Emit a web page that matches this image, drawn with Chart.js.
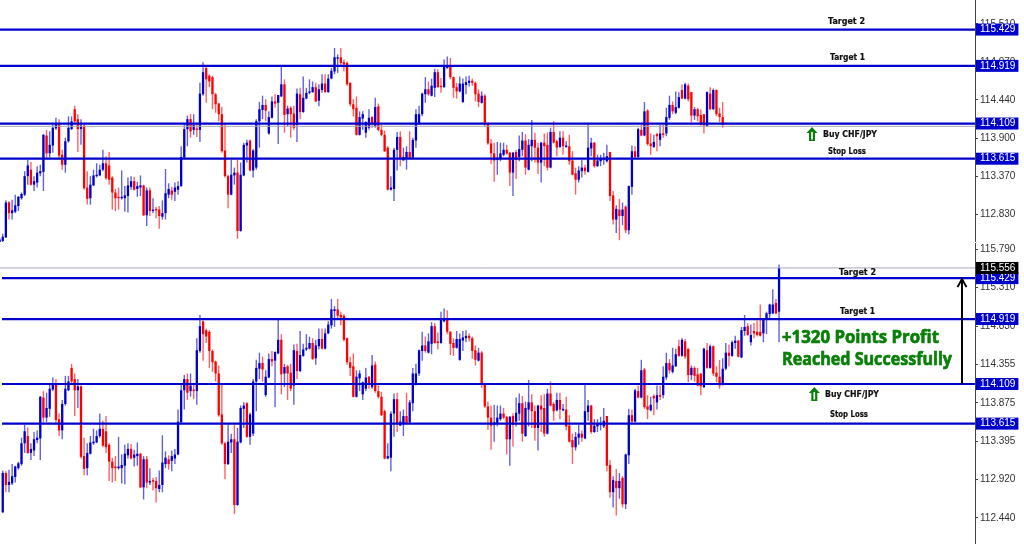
<!DOCTYPE html>
<html><head><meta charset="utf-8">
<style>
html,body{margin:0;padding:0;background:#fff;width:1024px;height:544px;overflow:hidden}
canvas{position:absolute;left:0;display:block}
#top{top:0}
#bottom{top:243px}
</style>
<script src="https://cdn.jsdelivr.net/npm/chart.js@4/dist/chart.umd.min.js"></script>
</head><body>
<canvas id="top" width="1024" height="242"></canvas>
<canvas id="bottom" width="1024" height="301"></canvas>
<script>
const opens=[112.43,112.46,112.51,113.00,112.85,112.87,112.95,113.06,113.11,113.37,
113.46,113.25,113.28,113.41,113.43,113.94,113.69,113.80,114.04,114.10,
113.67,113.53,113.86,114.03,114.31,114.17,114.03,114.08,113.21,113.06,
113.24,113.37,113.38,113.46,113.55,113.52,113.35,113.14,113.08,113.06,
113.06,113.09,113.22,113.30,113.19,113.21,113.24,112.82,113.17,112.88,
112.91,112.90,112.80,112.85,113.11,113.17,113.15,113.18,113.23,113.63,
114.03,114.17,114.02,114.04,114.02,114.52,114.89,114.78,114.76,114.52,
114.39,114.24,113.73,113.37,113.11,113.38,113.42,112.60,113.38,113.80,
113.87,113.45,113.49,114.14,114.30,114.37,113.97,114.19,114.42,114.40,
114.49,114.66,114.24,114.33,114.25,114.09,114.52,114.27,114.46,114.54,
114.55,114.62,114.43,114.58,114.67,114.55,114.74,114.84,115.02,115.04,
114.97,114.96,114.68,114.38,114.33,113.95,114.18,113.98,114.05,114.20,
114.07,114.35,114.02,113.95,113.77,113.18,113.19,113.74,113.92,113.59,
113.62,113.71,113.63,113.87,114.11,114.24,114.52,114.59,114.50,114.61,
114.83,114.64,114.62,114.89,114.93,114.76,114.62,114.56,114.41,114.65,
114.68,114.71,114.68,114.53,114.40,114.50,114.11,113.83,113.69,113.60,
113.62,113.67,113.74,113.70,113.42,113.71,113.64,113.74,113.87,113.46,
113.79,113.88,113.77,113.56,113.84,113.81,113.49,113.99,113.86,113.78,
113.91,113.78,113.79,113.59,113.41,113.32,113.44,113.49,113.43,113.76,
113.84,113.51,113.58,113.60,113.58,113.71,113.10,112.76,112.90,112.81,
112.94,112.61,113.22,113.72,113.64,114.02,113.94,114.29,113.83,113.78,
113.96,113.88,113.97,113.97,114.19,114.37,114.26,114.33,114.58,114.46,
114.64,114.55,114.22,114.31,114.23,114.24,114.07,114.53,114.31,114.58,
114.25,114.20,114.10,114.30,114.50,114.46,114.62,114.65,114.44,114.77,
114.83,114.63,114.77,114.76,114.76,114.74,114.93,114.98,114.99,115.12,115.01];
const highs=[112.50,112.56,113.03,113.02,113.04,113.11,113.09,113.14,113.44,113.60,
113.57,113.37,113.51,113.53,113.96,114.02,114.00,114.12,114.19,114.17,
113.74,113.91,114.21,114.21,114.36,114.24,114.17,114.09,113.44,113.37,
113.46,113.55,113.53,113.74,113.65,113.71,113.37,113.19,113.21,113.45,
113.23,113.35,113.37,113.36,113.29,113.38,113.25,113.21,113.21,113.06,
112.94,112.95,113.03,113.47,113.27,113.22,113.28,113.30,113.79,114.11,
114.22,114.24,114.24,114.12,114.68,114.97,114.90,114.80,114.78,114.54,
114.40,114.34,114.11,113.39,113.60,113.49,113.60,113.56,113.84,113.88,
113.88,113.75,114.17,114.41,114.50,114.45,114.28,114.49,114.52,114.51,
114.91,114.73,114.36,114.35,114.36,114.60,114.61,114.77,114.61,114.73,
114.70,114.68,114.66,114.80,114.80,114.80,114.89,115.17,115.08,115.17,
115.01,114.98,114.69,114.45,114.49,114.28,114.28,114.14,114.31,114.21,
114.47,114.39,114.09,114.01,113.79,113.37,113.77,113.99,114.00,113.77,
113.79,114.00,113.91,114.31,114.36,114.54,114.76,114.70,114.74,114.88,
114.87,114.75,115.01,115.05,115.03,114.77,114.68,114.77,114.74,114.77,
114.78,114.74,114.70,114.59,114.56,114.52,114.12,113.89,113.84,113.85,
113.84,113.84,113.81,113.71,113.71,113.74,113.94,113.99,113.96,113.89,
114.16,113.98,113.84,113.85,113.97,113.98,114.05,114.14,113.88,114.00,
114.00,113.86,113.95,113.72,113.49,113.51,113.60,113.53,114.10,113.91,
113.85,113.67,113.67,113.70,113.81,113.71,113.16,112.96,113.05,113.00,
112.96,113.24,113.80,113.79,114.05,114.09,114.41,114.31,113.97,113.95,
113.98,114.09,114.09,114.33,114.50,114.42,114.56,114.55,114.66,114.68,
114.67,114.55,114.34,114.33,114.31,114.24,114.56,114.62,114.60,114.59,
114.33,114.41,114.43,114.62,114.60,114.65,114.71,114.66,114.82,114.97,
114.87,114.85,114.87,114.90,115.10,114.93,115.01,115.11,115.29,115.17,115.60];
const lows=[112.41,112.43,112.50,112.76,112.76,112.85,112.88,113.04,113.09,113.25,
113.24,113.16,113.21,113.37,113.16,113.63,113.63,113.70,114.02,113.60,
113.46,113.42,113.84,114.02,114.12,113.71,113.81,113.18,112.97,112.97,
113.23,113.35,113.37,113.44,113.32,113.25,112.90,112.88,112.90,113.04,
112.87,112.86,113.18,113.17,113.08,113.09,112.81,112.67,112.81,112.85,
112.78,112.63,112.76,112.76,113.06,113.04,113.02,113.11,113.22,113.63,
113.79,113.91,113.95,113.92,113.85,114.50,114.40,114.62,114.31,114.26,
114.14,113.70,113.35,112.92,113.10,113.25,112.49,112.59,113.37,113.56,
113.44,113.35,113.46,113.77,114.17,114.14,113.95,114.18,114.33,113.82,
114.48,113.98,114.07,113.91,114.02,113.85,114.17,114.26,114.45,114.52,
114.54,114.41,114.35,114.54,114.54,114.54,114.73,114.80,114.82,114.91,
114.84,114.64,114.35,114.21,113.94,113.94,114.02,113.91,114.02,114.05,
114.05,114.00,113.93,113.71,113.17,113.17,113.02,113.45,113.51,113.59,
113.46,113.61,113.62,113.77,114.09,114.21,114.40,114.50,114.49,114.48,
114.61,114.54,114.61,114.88,114.73,114.47,114.46,114.55,114.40,114.52,
114.63,114.64,114.42,114.34,114.39,114.06,113.81,113.54,113.29,113.39,
113.58,113.65,113.67,113.23,113.09,113.33,113.58,113.65,113.39,113.45,
113.58,113.56,113.40,113.28,113.51,113.45,113.48,113.83,113.65,113.77,
113.67,113.77,113.53,113.38,113.11,113.28,113.35,113.39,113.42,113.65,
113.49,113.50,113.51,113.53,113.56,113.02,112.69,112.57,112.47,112.68,
112.57,112.55,113.11,113.61,113.63,113.93,113.93,113.80,113.67,113.77,
113.72,113.79,113.91,113.93,114.16,114.24,114.24,114.32,114.45,114.45,
114.42,114.13,114.16,114.14,114.08,113.97,114.06,114.30,114.30,114.21,
114.13,114.05,114.09,114.28,114.33,114.45,114.55,114.44,114.43,114.71,
114.71,114.59,114.68,114.70,114.70,114.63,114.73,114.91,114.98,114.98,114.63];
const closes=[112.48,112.52,113.00,112.85,112.89,112.96,113.08,113.12,113.37,113.52,
113.25,113.30,113.42,113.44,113.95,113.69,113.81,114.05,114.10,113.66,
113.53,113.86,114.05,114.14,114.14,114.03,114.08,113.20,113.05,113.25,
113.38,113.39,113.46,113.55,113.34,113.32,113.14,113.06,113.06,113.08,
113.10,113.24,113.30,113.18,113.23,113.24,112.82,113.17,112.88,112.90,
112.89,112.81,112.85,113.13,113.19,113.11,113.21,113.23,113.64,114.03,
114.17,114.00,114.09,114.02,114.53,114.83,114.73,114.70,114.52,114.38,
114.24,113.72,113.37,113.11,113.39,113.42,112.60,113.39,113.81,113.84,
113.45,113.73,114.14,114.31,114.37,114.29,114.20,114.42,114.39,114.51,
114.66,114.23,114.32,114.24,114.05,114.53,114.27,114.47,114.54,114.56,
114.62,114.42,114.59,114.67,114.55,114.74,114.85,115.04,115.04,114.96,
114.94,114.66,114.38,114.31,113.95,114.20,114.24,114.13,114.19,114.11,
114.34,114.02,113.95,113.72,113.18,113.21,113.74,113.92,113.62,113.64,
113.71,113.62,113.88,114.24,114.24,114.53,114.59,114.52,114.64,114.83,
114.62,114.62,114.92,114.93,114.76,114.61,114.56,114.67,114.67,114.69,
114.71,114.68,114.52,114.41,114.50,114.12,113.83,113.69,113.59,113.63,
113.69,113.74,113.69,113.42,113.70,113.60,113.75,113.87,113.49,113.81,
113.88,113.77,113.56,113.84,113.79,113.49,113.99,113.84,113.77,113.91,
113.79,113.80,113.58,113.39,113.32,113.45,113.49,113.44,113.77,113.84,
113.51,113.59,113.61,113.62,113.65,113.09,112.76,112.91,112.81,112.90,
112.61,113.23,113.72,113.64,114.03,113.94,114.28,113.82,113.79,113.85,
113.93,113.97,113.95,114.20,114.37,114.28,114.34,114.48,114.46,114.66,
114.45,114.22,114.31,114.21,114.09,114.08,114.55,114.31,114.58,114.24,
114.20,114.09,114.30,114.50,114.46,114.63,114.65,114.45,114.78,114.82,
114.72,114.72,114.74,114.72,114.71,114.93,114.99,115.10,115.10,114.99,115.556];

const levels=[115.429,114.919,114.109,113.615];
const lastPrice=115.556;
const topBidLine=114.07;
const topTicks=[115.510,114.970,114.440,113.900,113.370,112.830];
const bottomTicks=[115.790,115.310,114.830,114.355,113.875,113.395,112.920,112.440];

const BLUE='#0000CD',RED='#FF0000',BLUE_W='rgba(0,0,205,0.62)',RED_W='rgba(255,0,0,0.62)';

function drawArrow(ctx,cx,top,bottom){
  ctx.save();
  ctx.fillStyle='#0A7F0A';
  ctx.beginPath();
  ctx.moveTo(cx,top);ctx.lineTo(cx+5.5,top+6);ctx.lineTo(cx+3,top+6);ctx.lineTo(cx+3,bottom);
  ctx.lineTo(cx-3,bottom);ctx.lineTo(cx-3,top+6);ctx.lineTo(cx-5.5,top+6);ctx.closePath();
  ctx.fill();
  ctx.fillStyle='#fff';
  ctx.fillRect(cx-0.8,top+5,1.6,bottom-top-6.5);
  ctx.restore();
}
const notes={
  plugin:{
    id:'notes',
    afterDatasetsDraw(chart,args,opts){
      const ctx=chart.ctx;
      ctx.save();
      ctx.textAlign='left';ctx.textBaseline='middle';
      (opts.texts||[]).forEach(t=>{
        ctx.font=t.font;ctx.fillStyle=t.color;
        ctx.fillText(t.text,t.x,t.y,t.w);
        if(t.heavy){ctx.strokeStyle=t.color;ctx.lineWidth=t.heavy;ctx.strokeText(t.text,t.x,t.y,t.w);}
      });
      ctx.restore();
      if(opts.arrow) drawArrow(ctx,opts.arrow[0],opts.arrow[1],opts.arrow[2]);
      if(opts.profit){
        const y=chart.scales.y,x=opts.profit.x;
        const y0=y.getPixelForValue(opts.profit.from),y1=y.getPixelForValue(opts.profit.to);
        ctx.save();ctx.strokeStyle='#000';ctx.lineWidth=2;
        ctx.beginPath();ctx.moveTo(x,y0);ctx.lineTo(x,y1);
        ctx.moveTo(x-4.5,y1+9);ctx.lineTo(x,y1+1);ctx.lineTo(x+4.5,y1+9);ctx.stroke();ctx.restore();
      }
    }
  }
};

const labelFont='bold 8.5px "DejaVu Sans","Liberation Sans",sans-serif';
const bigFont='bold 18px "Open Sans","Liberation Sans",sans-serif';
const small=(text,x,y,w)=>({text,x,y,w,font:labelFont,color:'#111',heavy:0.2});

function panel(id,from,to,iMin,iMax,yMin,yMax,tickVals,extra){
  const idx=[];for(let i=from;i<=to;i++)idx.push(i);
  const up=i=>closes[i]>=opens[i];
  const lineSets=levels.map(v=>({type:'line',data:[{x:extra.lineStart,y:v},{x:iMax,y:v}],borderColor:BLUE,borderWidth:2.2,pointRadius:0,order:0}));
  lineSets.push({type:'line',data:[{x:iMin,y:extra.bid},{x:iMax,y:extra.bid}],borderColor:'#A8A8B4',borderWidth:1,pointRadius:0,order:0.5});
  return new Chart(document.getElementById(id),{
    type:'bar',
    data:{datasets:[
      {data:idx.map(i=>({x:i,y:[lows[i],highs[i]]})),backgroundColor:idx.map(i=>up(i)?BLUE_W:RED_W),barThickness:1.4,grouped:false,inflateAmount:0,order:2},
      {data:idx.map(i=>({x:i,y:[Math.min(opens[i],closes[i]),Math.max(opens[i],closes[i])]})),backgroundColor:idx.map(i=>up(i)?BLUE:RED),barThickness:2.3,grouped:false,inflateAmount:0,order:1},
      ...lineSets
    ]},
    options:{
      responsive:false,animation:false,devicePixelRatio:1,
      layout:{padding:0},
      plugins:{legend:{display:false},tooltip:{enabled:false},title:{display:false},notes:extra.notes},
      scales:{
        x:{type:'linear',display:false,min:iMin,max:iMax,offset:false},
        y:{type:'linear',position:'right',min:yMin,max:yMax,
          afterBuildTicks(a){a.ticks=[...tickVals,...levels,...(extra.last?[lastPrice]:[])].map(value=>({value}));},
          afterFit(a){a.width=49;a.paddingTop=0;a.paddingBottom=0;},
          grid:{drawOnChartArea:false,drawTicks:true,tickLength:3,color:'#444'},
          border:{display:true,color:'#444',width:1},
          ticks:{
            autoSkip:false,padding:2,crossAlign:'near',
            font:{family:'"Liberation Sans",Arial,sans-serif',size:10},
            callback:v=>v.toFixed(3),
            color:c=>(levels.includes(c.tick.value)||c.tick.value===lastPrice)?'#FFFFFF':'#333333',
            showLabelBackdrop:c=>levels.includes(c.tick.value)||c.tick.value===lastPrice,
            backdropColor:c=>c.tick.value===lastPrice?'#000000':BLUE,
            backdropPadding:{left:4,right:3,top:0,bottom:0}
          }
        }
      }
    },
    plugins:[notes.plugin]
  });
}

panel('top',0,231,0.128,311.6,112.445,115.844,topTicks,{lineStart:0.128,last:false,bid:topBidLine,notes:{
  texts:[small('Target 2',828,22,37),small('Target 1',830,58,35),small('Buy CHF/JPY',823,135,54),small('Stop Loss',828,152,38)],
  arrow:[812,127,141]
}});
panel('bottom',2,250,1.128,312.6,112.114,115.867,bottomTicks,{lineStart:1.77,last:true,bid:lastPrice,notes:{
  texts:[small('Target 2',839,29.7,37),small('Target 1',840,69,35),small('Buy CHF/JPY',825,151.7,54),small('Stop Loss',830,172,38),
    {text:'+1320 Points Profit',x:782,y:95,w:157,font:bigFont,color:'#0A7F0A',heavy:0.7},
    {text:'Reached Successfully',x:782,y:117,w:170,font:bigFont,color:'#0A7F0A',heavy:0.7}],
  arrow:[814.3,144,158],
  profit:{x:962,from:114.109,to:115.429}
}});
</script>
</body></html>
